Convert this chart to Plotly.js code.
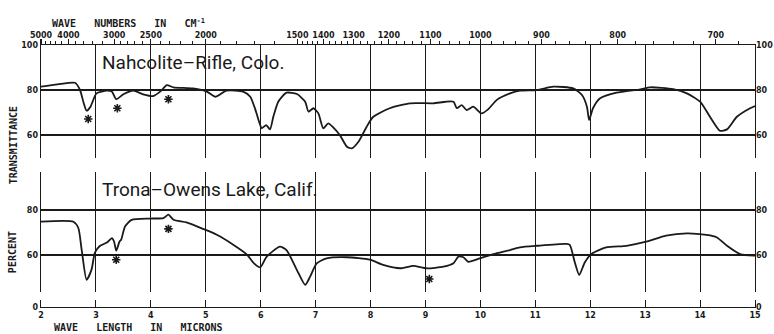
<!DOCTYPE html>
<html>
<head>
<meta charset="utf-8">
<script src="https://cdn.plot.ly/plotly-3.0.1.min.js"></script>
<style>html,body{margin:0;padding:0;background:#fff;}#chart{width:774px;height:334px;}</style>
</head>
<body>
<div id="chart"></div>
<script>
// Nahcolite – Rifle, Colo. (upper spectrum), wavelength in microns vs % transmittance
const nahcoliteMicrons = [2.0,2.3,2.62,2.71,2.78,2.83,2.9,3.01,3.2,3.29,3.37,3.5,3.68,3.86,4.04,4.18,4.29,4.41,4.77,5.02,5.17,5.38,5.68,5.81,5.9,5.96,6.02,6.1,6.17,6.23,6.32,6.47,6.66,6.81,6.87,6.96,7.05,7.14,7.23,7.32,7.44,7.57,7.66,7.78,7.93,8.05,8.35,8.72,9.14,9.51,9.57,9.66,9.75,9.87,10.02,10.14,10.3,10.54,10.72,11.03,11.33,11.69,11.85,11.94,11.98,12.05,12.18,12.48,12.91,13.09,13.51,13.76,14.0,14.18,14.36,14.49,14.67,14.91,15.0];
const nahcoliteT = [81.5,82.5,83.2,80,74,70.8,72.5,78.5,79.7,79.3,75.9,78.1,79.7,78.1,77.3,79.5,82.2,81.2,80.7,79.3,77,79.7,79.3,77,71.5,66.7,63,64.4,62.5,68.1,74.8,78.8,78.2,74.8,70.4,71.9,69.6,63,65.2,63.4,60,54.8,54.1,57,63.7,68.1,71.9,74.1,74.1,74.8,71.9,73.3,71.1,72.6,69.6,71.4,75.6,78.5,79.7,80,81.5,80.7,77.8,72.6,66.7,71.9,76.3,78.8,80.3,81.2,80.4,78.5,74.8,68.1,61.9,62.5,68.1,71.9,72.9];

// Trona – Owens Lake, Calif. (lower spectrum)
const tronaMicrons = [2.0,2.59,2.68,2.74,2.83,2.92,2.98,3.07,3.2,3.29,3.33,3.37,3.43,3.46,3.53,3.65,3.98,4.23,4.32,4.41,4.65,4.95,5.2,5.5,5.75,5.87,5.99,6.11,6.35,6.47,6.66,6.81,6.9,7.02,7.2,7.57,7.99,8.23,8.54,8.78,9.02,9.33,9.51,9.6,9.69,9.78,9.99,10.24,10.54,10.72,11.03,11.57,11.63,11.72,11.8,11.9,12.02,12.29,12.66,13.02,13.38,13.76,14.12,14.3,14.49,14.73,14.98,15.0];
const tronaT = [74.8,74.8,72,62.4,49,53.5,60.9,64,65.5,67.5,66,61.9,66,66.8,72.7,75.6,76.2,76.4,77.9,75.7,74.5,71.6,69,64.6,60.2,56.5,54.5,59.3,63.7,62.2,53.3,46.7,50.4,56.3,58.5,59,57.9,55.6,54.1,55.2,54.1,54.8,56.3,59.3,59,57,58.5,60.4,62.2,63.4,64.1,64.9,64.4,56.7,51.1,56.7,60.4,63.4,64.1,65.9,68.6,69.6,68.9,67.9,64.1,60.4,59.7,59.7];

// asterisk marks
const starTopMicrons = [2.86,3.39,4.32];
const starTopT = [67.1,71.9,75.9];
const starBotMicrons = [3.37,4.32,9.07];
const starBotT = [57.9,71.6,49.3];

// axis labels
const micronTicks = [2,3,4,5,6,7,8,9,10,11,12,13,14,15];
const waveNumberLabels = [5000,4000,3000,2500,2000,1500,1400,1300,1200,1100,1000,900,800,700];
const waveNumberMinor = [4800,4600,4400,4200,3800,3600,3400,3200,2900,2800,2700,2600,2400,2300,2200,2100,1900,1800,1700,1600,
  1480,1460,1440,1420,1380,1360,1340,1320,1280,1260,1240,1220,1180,1160,1140,1120,1080,1060,1040,1020,
  980,960,940,920,880,860,840,820,780,760,740,720,680];
const topPanelTicks = [60,80,100];
const bottomPanelTicks = [60,80];

const ink = '#1a1a1a';
const lblFont = {family: 'DejaVu Sans', size: 8, color: ink, weight: 700};
const titleFont = {family: 'DejaVu Sans Mono', size: 10, color: ink, weight: 700};

// invisible helper so that each axis pair is laid out (no mark is drawn)
function helper(xa, ya) {
  return {x: micronTicks, y: micronTicks.map(() => null), xaxis: xa, yaxis: ya, mode: 'lines',
          line: {width: 0}, hoverinfo: 'skip', showlegend: false};
}

const traces = [
  {x: nahcoliteMicrons, y: nahcoliteT, xaxis: 'x', yaxis: 'y', mode: 'lines',
   line: {color: ink, width: 1.8, shape: 'spline', smoothing: 0.6}, hoverinfo: 'skip'},
  {x: tronaMicrons, y: tronaT, xaxis: 'x', yaxis: 'y2', mode: 'lines',
   line: {color: ink, width: 1.8, shape: 'spline', smoothing: 0.6}, hoverinfo: 'skip'},
  {x: starTopMicrons, y: starTopT, xaxis: 'x', yaxis: 'y', mode: 'markers',
   marker: {symbol: 'asterisk-open', size: 7, color: ink, line: {color: ink, width: 1.6}}, hoverinfo: 'skip'},
  {x: starBotMicrons, y: starBotT, xaxis: 'x', yaxis: 'y2', mode: 'markers',
   marker: {symbol: 'asterisk-open', size: 7, color: ink, line: {color: ink, width: 1.6}}, hoverinfo: 'skip'},
  helper('x', 'y3'),
  helper('x2', 'y'),
  helper('x', 'y4'),
  helper('x', 'y5'),
  helper('x', 'y6')
];

const common = {showgrid: true, gridcolor: ink, gridwidth: 1.1, zeroline: false, ticks: '',
  showline: true, linecolor: ink, linewidth: 1.4, fixedrange: true};

const layout = {
  width: 774, height: 334,
  margin: {l: 41, r: 19, t: 45, b: 27},
  paper_bgcolor: '#ffffff', plot_bgcolor: '#ffffff',
  showlegend: false,
  xaxis: Object.assign({}, common, {
    range: [2, 15], anchor: 'y3', tickmode: 'array', tickvals: micronTicks,
    ticktext: micronTicks.map(String), tickfont: lblFont, mirror: false
  }),
  xaxis2: {
    overlaying: 'x', side: 'top', anchor: 'y', range: [2, 15],
    tickmode: 'array', tickvals: waveNumberLabels.map(w => 10000 / w),
    ticktext: waveNumberLabels.map(String), tickfont: lblFont, ticklabelstandoff: -3,
    ticks: 'outside', ticklen: 5, tickcolor: ink, tickwidth: 1.2,
    minor: {tickmode: 'array', tickvals: waveNumberMinor.map(w => 10000 / w), ticks: 'outside', ticklen: 3, tickcolor: ink, tickwidth: 1, showgrid: false},
    showgrid: false, zeroline: false, showline: true, linecolor: ink, linewidth: 1.4, fixedrange: true
  },
  yaxis: Object.assign({}, common, {
    domain: [0.5687, 1], range: [49.78, 100], anchor: 'x', mirror: true,
    tickmode: 'array', tickvals: topPanelTicks, tickfont: lblFont
  }),
  yaxis2: Object.assign({}, common, {
    domain: [0.0573, 0.5153], range: [43.56, 96.89], anchor: 'x', mirror: true,
    tickmode: 'array', tickvals: bottomPanelTicks, tickfont: lblFont
  }),
  yaxis3: Object.assign({}, common, {
    domain: [0, 0.0267], range: [0, 10], anchor: 'x', mirror: true, showgrid: false,
    tickmode: 'array', tickvals: [0], tickfont: lblFont
  }),
  yaxis4: {overlaying: 'y', side: 'right', anchor: 'x', range: [49.78, 100], tickmode: 'array',
    tickvals: topPanelTicks, tickfont: lblFont, showgrid: false, zeroline: false, ticks: '', showline: false, fixedrange: true},
  yaxis5: {overlaying: 'y2', side: 'right', anchor: 'x', range: [43.56, 96.89], tickmode: 'array',
    tickvals: bottomPanelTicks, tickfont: lblFont, showgrid: false, zeroline: false, ticks: '', showline: false, fixedrange: true},
  yaxis6: {overlaying: 'y3', side: 'right', anchor: 'x', range: [0, 10], tickmode: 'array',
    tickvals: [0], tickfont: lblFont, showgrid: false, zeroline: false, ticks: '', showline: false, fixedrange: true},
  annotations: [
    {text: 'Nahcolite–Rifle, Colo.', xref: 'x', yref: 'y', x: 3.07, y: 92.4, xanchor: 'left', yanchor: 'middle',
     showarrow: false, font: {family: 'Roboto', size: 19, color: ink}},
    {text: 'Trona–Owens Lake, Calif.', xref: 'x', yref: 'y2', x: 3.07, y: 88.9, xanchor: 'left', yanchor: 'middle',
     showarrow: false, font: {family: 'Roboto', size: 19, color: ink}},
    {text: 'WAVE   NUMBERS   IN   CM<sup>-1</sup>', xref: 'paper', yref: 'paper', x: 0.0126, y: 1.084,
     xanchor: 'left', yanchor: 'middle', showarrow: false, font: titleFont},
    {text: 'WAVE   LENGTH   IN   MICRONS', xref: 'paper', yref: 'paper', x: 0.0154, y: -0.080,
     xanchor: 'left', yanchor: 'middle', showarrow: false, font: titleFont},
    {text: 'TRANSMITTANCE', xref: 'paper', yref: 'paper', x: -0.039, y: 0.618, textangle: -90,
     xanchor: 'center', yanchor: 'middle', showarrow: false, font: titleFont},
    {text: 'PERCENT', xref: 'paper', yref: 'paper', x: -0.039, y: 0.21, textangle: -90,
     xanchor: 'center', yanchor: 'middle', showarrow: false, font: titleFont}
  ]
};

Plotly.newPlot('chart', traces, layout, {staticPlot: true, displayModeBar: false});
</script>
</body>
</html>
